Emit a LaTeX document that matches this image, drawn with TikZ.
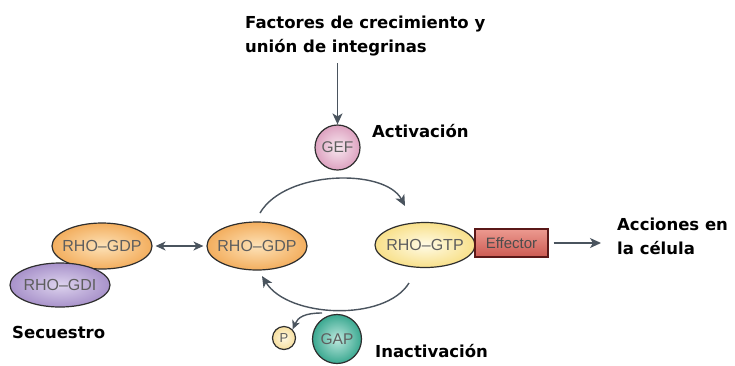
\documentclass[tikz,border=0pt]{standalone}
\usepackage{fontspec}
\setmainfont{Liberation Sans}
\newfontfamily\labfont{DejaVu Sans}
\newfontfamily\molfont{Liberation Sans}
\usetikzlibrary{shapes.geometric,arrows.meta}
\definecolor{arrgray}{HTML}{4A545E}
\definecolor{edgec}{HTML}{2E2E2E}
\definecolor{molText}{HTML}{5E5E5E}
\definecolor{orIn}{HTML}{FDE2B8}
\definecolor{orOut}{HTML}{F3AE5E}
\definecolor{yeIn}{HTML}{FFFBE6}
\definecolor{yeOut}{HTML}{F8E08A}
\definecolor{puIn}{HTML}{DDD3EE}
\definecolor{puOut}{HTML}{A892CA}
\definecolor{piIn}{HTML}{F8E8F0}
\definecolor{piOut}{HTML}{DDA2C0}
\definecolor{teIn}{HTML}{BDE8DE}
\definecolor{teOut}{HTML}{3AA890}
\definecolor{pIn}{HTML}{FFF8E2}
\definecolor{pOut}{HTML}{F6DE9E}
\definecolor{efTop}{HTML}{EC9A90}
\definecolor{efBot}{HTML}{CC5A52}
\definecolor{efEdge}{HTML}{5A1818}
\begin{document}
\begin{tikzpicture}[x=1pt,y=-1pt,
  mol/.style={ellipse, draw=edgec, line width=1.2pt, minimum width=100pt,
    minimum height=46pt, inner xsep=-10pt, inner ysep=0pt, text=molText,
    font=\molfont\fontsize{16}{18}\selectfont},
  circ/.style={circle, draw=edgec, line width=1.2pt, inner sep=0pt, text=molText,
    font=\molfont\fontsize{15.5}{17}\selectfont},
  lab/.style={inner sep=0pt, font=\labfont\bfseries\fontsize{16.5}{23.5}\selectfont, align=left},
  arr/.style={draw=arrgray, line width=1.4pt, -{Stealth[length=11pt,width=10pt,inset=3pt]}},
  darr/.style={draw=arrgray, line width=1.4pt, {Stealth[length=10pt,width=9pt,inset=3pt]}-{Stealth[length=10pt,width=9pt,inset=3pt]}}
]
\useasboundingbox (0,0) rectangle (735,365);
\fill[white] (0,0) rectangle (735,365);

% labels
\node[lab, anchor=north west] (title) at (245,16) {Factores de crecimiento y\\uni\'on de integrinas};
\node[lab, anchor=base west] (act) at (372,137) {Activación};
\node[lab, anchor=base west] (sec) at (12,338) {Secuestro};
\node[lab, anchor=base west] (inact) at (375,357) {Inactivación};
\node[lab, anchor=north west] (acc) at (617,218) {Acciones en\\la célula};

% molecules
\node[mol, inner color=orIn, outer color=orOut] (gdpL) at (102,246) {RHO–GDP};
\node[mol, inner color=puIn, outer color=puOut, minimum height=44pt] (gdi) at (60,285) {RHO–GDI};
\node[mol, inner color=orIn, outer color=orOut, minimum height=48pt] (gdpM) at (257,246) {RHO–GDP};
\node[mol, inner color=yeIn, outer color=yeOut, minimum height=45pt] (gtp) at (425,245) {RHO–GTP};
\node[draw=efEdge, line width=1.2pt, top color=efTop, bottom color=efBot,
  minimum width=73pt, minimum height=28pt, inner sep=0pt, text=black!70,
  font=\molfont\fontsize{15}{17}\selectfont] (eff) at (511.5,243) {Effector};
\node[circ, inner color=piIn, outer color=piOut, minimum size=45pt] (gef) at (337.5,147.5) {GEF};
\node[circ, inner color=teIn, outer color=teOut, minimum size=49pt] (gap) at (337,339) {GAP};
\node[circ, inner color=pIn, outer color=pOut, minimum size=23pt,
  font=\molfont\fontsize{13}{15}\selectfont] (p) at (284,338) {P};

% connector end points
\coordinate (inTop) at (337.5,63);
\coordinate (topS) at (260,213);
\coordinate (topE) at (405,206);
\coordinate (botS) at (409,283);
\coordinate (botE) at (262,276);
\coordinate (brS) at (322,313);
\coordinate (outE) at (601,243);

% connectors
\draw[arr] (inTop) -- (gef.north);
\draw[darr, shorten <=3pt, shorten >=3pt] (gdpL.east) -- (gdpM.west);
\draw[arr] (topS) .. controls (285,170) and (385,168) .. (topE);
\draw[arr] (botS) .. controls (385,322) and (288,318) .. (botE);
\draw[draw=arrgray, line width=1.4pt, -{Stealth[length=9pt,width=8pt,inset=2.5pt]}] (brS) .. controls (305,313) and (298,317) .. (p.north east);
\draw[arr, shorten <=5pt] (eff.east) -- (outE);
\end{tikzpicture}
\end{document}
